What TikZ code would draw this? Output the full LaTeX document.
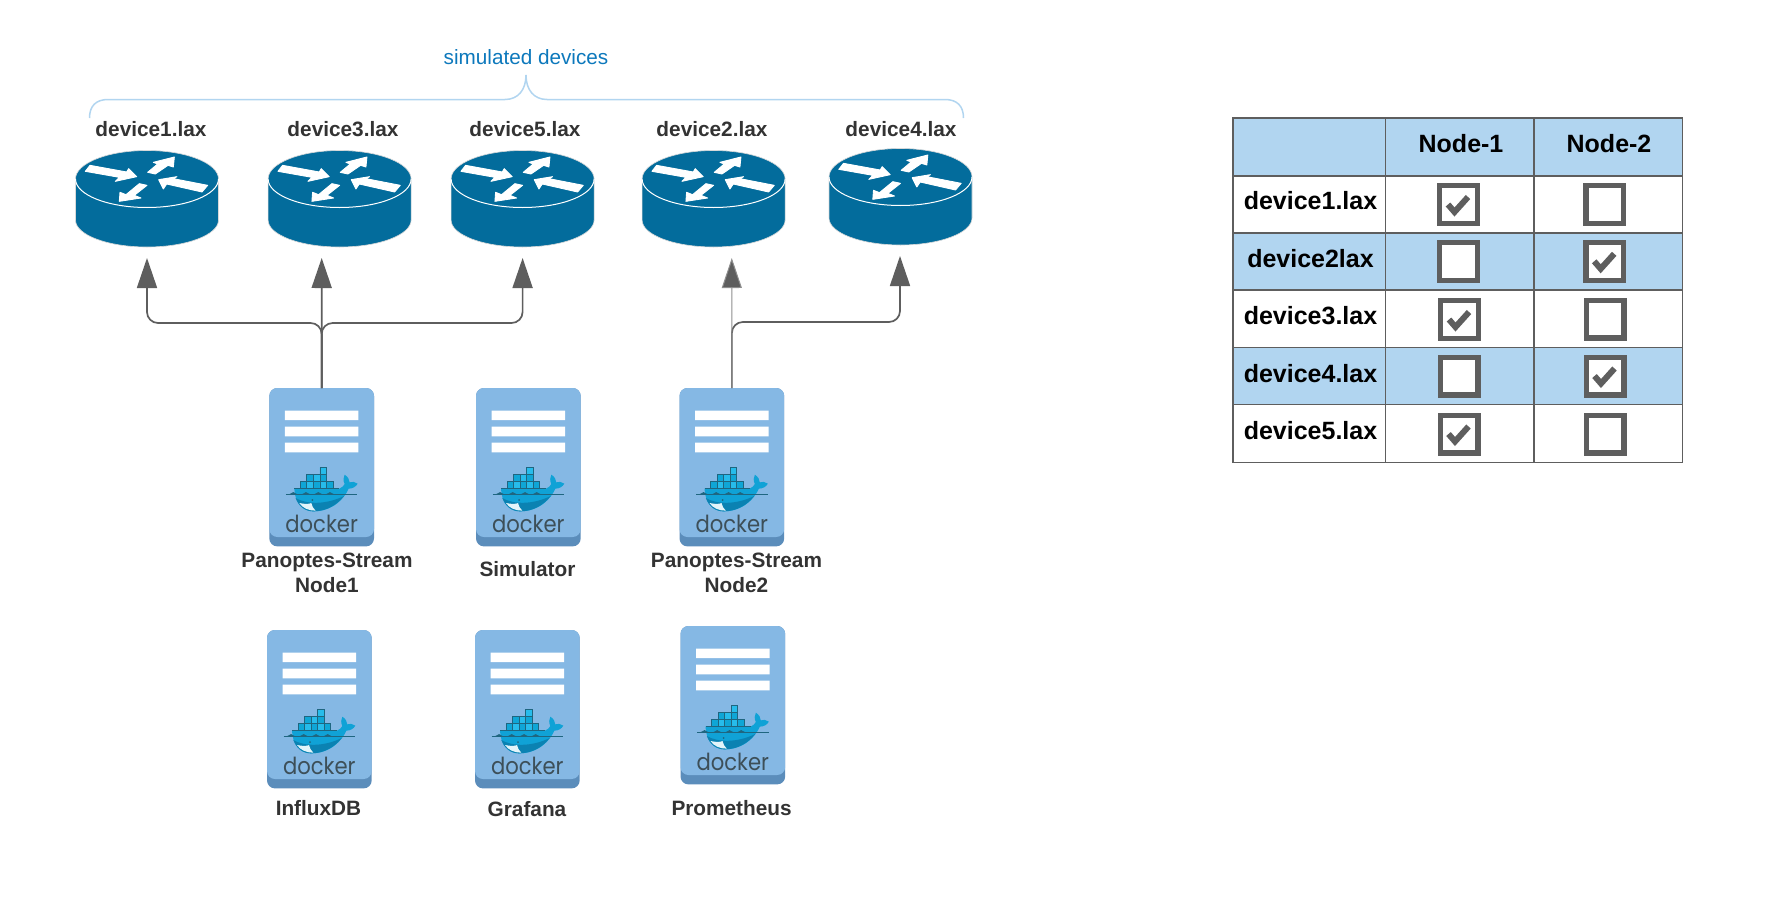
\documentclass[tikz,border=0pt]{standalone}
\usepackage{fontspec}
\setmainfont{Liberation Sans}
\newfontfamily\dockerfont{Poppins}
\usetikzlibrary{arrows.meta}
\definecolor{routerblue}{HTML}{036C9C}
\definecolor{simblue}{HTML}{0C78BC}
\definecolor{srvlight}{HTML}{85B8E4}
\definecolor{srvdark}{HTML}{5B8DBB}
\definecolor{cellblue}{HTML}{B1D5F0}
\definecolor{linegrey}{HTML}{5E5E5E}
\definecolor{labeltext}{HTML}{333333}
\definecolor{dkline}{HTML}{1F6680}
\definecolor{dkA}{HTML}{0FA6D6}
\definecolor{dkB}{HTML}{27BCEB}
\definecolor{dkwhale}{HTML}{10A2D6}
\definecolor{dkdeep}{HTML}{0B82B2}
\definecolor{dktext}{HTML}{3D4F58}
\tikzset{
  lbl/.style={font=\fontsize{20.8}{25}\selectfont\bfseries,text=labeltext,align=center,inner sep=0pt},
  cell/.style={font=\fontsize{25}{29}\selectfont\bfseries,text=black,inner sep=0pt},
  link/.style={draw=linegrey,line width=1.7pt,rounded corners=11pt},
  tip/.style={-{Triangle[length=30pt,width=20pt,fill=linegrey]}},
  grid/.style={draw=linegrey,line width=1.7pt},
  chk/.style={draw=linegrey,fill=white,line width=5.3pt,minimum size=37.7pt,inner sep=0pt,outer sep=0pt},
  tick/.style={chk,path picture={\draw[linegrey,line width=6pt,miter limit=4]
     ([shift={(-10.5pt,0pt)}]path picture bounding box.center)--([shift={(-4pt,-7.5pt)}]path picture bounding box.center)--([shift={(9.5pt,7.5pt)}]path picture bounding box.center);}},
  routerdev/.pic={
    \node[minimum width=142pt,minimum height=96pt,inner sep=0pt] (-body) at (0,20) {};
    \fill[routerblue,draw=white!85!black,line width=.6pt] (-71.5,0) -- (-71.5,41) arc[x radius=71.5pt,y radius=27pt,start angle=180,end angle=360] -- (71.5,0) arc[x radius=71.5pt,y radius=28.5pt,start angle=0,end angle=180] -- cycle;
    \draw[white,line width=1pt] (-71.5,0) arc[x radius=71.5pt,y radius=28.5pt,start angle=180,end angle=360];
    \begin{scope}[xshift=-87pt,yshift=149pt,x=.33333pt,y=-.33333pt]
      \filldraw[white,line width=.9pt,line join=round] (76,424)--(90,406)--(200,426)--(206,416)--(230,440)--(166,454)--(178,442)--cycle;
      \filldraw[white,line width=.9pt,line join=round] (263,427)--(293,402)--(280,397)--(343,381)--(340,411)--(324,406)--(286,432)--cycle;
      \filldraw[white,line width=.9pt,line join=round] (443,466)--(340,446)--(351,440)--(296,449)--(310,477)--(320,462)--(426,486)--cycle;
      \filldraw[white,line width=.9pt,line join=round] (238,461)--(198,494)--(180,487)--(178,514)--(243,504)--(223,496)--(261,466)--cycle;
    \end{scope}
  },
  dockerserver/.pic={
    \node[anchor=north west,minimum width=104.7pt,minimum height=158.4pt,inner sep=0pt,outer sep=0pt,fill=srvdark,rounded corners=8pt] (-box) at (0,0) {};
    \fill[srvlight,rounded corners=8pt] (0,0) rectangle (104.7,149);
    \begin{scope}[xshift=-19.33pt,yshift=7.33pt,x=.33333pt,y=-.33333pt]
      \fill[white] (105,90) rectangle (325,118) (105,138) rectangle (325,167) (105,186) rectangle (325,215);
      % whale
      \fill[dkwhale] (133,324) -- (268,324) .. controls (276,320) and (282,316) .. (284,310) .. controls (279,300) and (280,290) .. (284,282) .. controls (293,288) and (299,296) .. (299,305) .. controls (306,302) and (315,303) .. (323,309) .. controls (318,318) and (308,324) .. (296,324) .. controls (284,352) and (250,392) .. (190,392) .. controls (155,392) and (135,365) .. (133,324) -- cycle;
      \fill[dkdeep] (137,352) .. controls (170,372) and (230,372) .. (282,346) .. controls (262,372) and (230,392) .. (190,392) .. controls (165,392) and (145,375) .. (137,352) -- cycle;
      \fill[white!88!dkwhale] (148,367) .. controls (165,371) and (180,370) .. (184,367) .. controls (186,376) and (190,384) .. (197,390) .. controls (175,390) and (158,382) .. (148,367) -- cycle;
      \fill[dkline] (187,358) circle[radius=1pt];
      \draw[dkline,line width=.7pt] (108,340) -- (322,340);
      \foreach \wx in {130,168,205,240} \fill[dkline] (\wx-11,340) .. controls (\wx-4,339) and (\wx-3,334) .. (\wx,334) .. controls (\wx+3,334) and (\wx+4,339) .. (\wx+11,340) -- cycle;
      \draw[dkline,line width=.8pt,fill=dkA] (151,303) rectangle +(19.6,20) (190.2,303) rectangle +(19.6,20) (229.4,303) rectangle +(19.6,20) (170.5,282) rectangle +(19.6,21) (210,282) rectangle +(19.6,21);
      \draw[dkline,line width=.8pt,fill=dkB] (170.6,303) rectangle +(19.6,20) (209.8,303) rectangle +(19.6,20) (190.2,282) rectangle +(19.6,21) (210,260) rectangle +(20,22);
      \draw[dkline,line width=.6pt] (133,324) -- (268,324);
      \node[anchor=base,inner sep=0pt,text=dktext,xscale=.9,font=\dockerfont\fontsize{23.5}{23}\selectfont] at (215,455) {docker};
    \end{scope}
  }
}
\begin{document}
\begin{tikzpicture}[x=1pt,y=-1pt]
\useasboundingbox (0,0) rectangle (1781,902);
\fill[white] (0,0) rectangle (1781,902);

% brace and its label
\node[font=\fontsize{20.7}{25}\selectfont,text=simblue,inner sep=0pt] (simlabel) at (526,57) {simulated devices};
\draw[cellblue,line width=1.5pt] (89.5,118) .. controls (89.5,106) and (96,99.5) .. (108,99.5) -- (505,99.5) .. controls (518,99.5) and (526,90) .. (526,75) .. controls (526,90) and (534,99.5) .. (547,99.5) -- (945,99.5) .. controls (957,99.5) and (963.5,106) .. (963.5,118);

% routers
\pic (r1) at (147,179) {routerdev};
\pic (r3) at (339.6,179) {routerdev};
\pic (r5) at (522.6,179) {routerdev};
\pic (r2) at (713.6,179) {routerdev};
\pic (r4) at (900.5,177) {routerdev};
\node[lbl] (l1) at (151,129) {device1.lax};
\node[lbl] (l3) at (343,129) {device3.lax};
\node[lbl] (l5) at (525,129) {device5.lax};
\node[lbl] (l2) at (712,129) {device2.lax};
\node[lbl] (l4) at (901,129) {device4.lax};

% servers
\pic (s1) at (269.3,388) {dockerserver};
\pic (s2) at (476,388) {dockerserver};
\pic (s3) at (679.5,388) {dockerserver};
\pic (s4) at (267,630) {dockerserver};
\pic (s5) at (475,630) {dockerserver};
\pic (s6) at (680.5,626) {dockerserver};
\node[lbl] (n1) at (327,572.5) {Panoptes-Stream\\Node1};
\node[lbl] (n2) at (527.5,569) {Simulator};
\node[lbl] (n3) at (736.5,572.5) {Panoptes-Stream\\Node2};
\node[lbl] (n4) at (318.5,808) {InfluxDB};
\node[lbl] (n5) at (527,809) {Grafana};
\node[lbl] (n6) at (731.6,808) {Prometheus};

% connectors
\coordinate (t1) at (147,258);
\coordinate (t3) at (321.7,258);
\coordinate (t5) at (522.6,258);
\coordinate (t2) at (731.8,258);
\coordinate (t4) at (900,256);
\coordinate (hA) at (0,323);
\coordinate (hB) at (0,322);
\draw[link,tip] (s1-box.north) -- (s1-box.north |- hA) -- (t1 |- hA) -- (t1);
\draw[link,tip] (s1-box.north) -- (s1-box.north |- hA) -- (t5 |- hA) -- (t5);
\draw[link,tip] (s1-box.north) -- (t3);
\draw[link,tip] (s3-box.north) -- (s3-box.north |- hB) -- (t4 |- hB) -- (t4);
\draw[draw=linegrey!70,line width=1pt,tip] (s3-box.north) -- (t2);

% table
\fill[cellblue] (1233,118) rectangle (1682.5,176) (1233,233) rectangle (1682.5,290) (1233,347.5) rectangle (1682.5,404.5);
\draw[grid] (1233,118) rectangle (1682.5,462.5);
\draw[grid] (1233,176) -- (1682.5,176) (1233,233) -- (1682.5,233) (1233,290) -- (1682.5,290) (1233,347.5) -- (1682.5,347.5) (1233,404.5) -- (1682.5,404.5);
\draw[grid,line width=1pt] (1385.5,118) -- (1385.5,462.5);
\draw[grid,line width=1.7pt] (1534,118) -- (1534,462.5);
\node[cell] (h1) at (1461,144) {Node-1};
\node[cell] (h2) at (1609,144) {Node-2};
\node[cell] (d1) at (1310.5,201) {device1.lax};
\node[cell] (d2) at (1310.5,259) {device2lax};
\node[cell] (d3) at (1310.5,316) {device3.lax};
\node[cell] (d4) at (1310.5,374) {device4.lax};
\node[cell] (d5) at (1310.5,431) {device5.lax};
\node[tick] (c11) at (1458.5,204.5) {};
\node[chk]  (c12) at (1604.7,204.5) {};
\node[chk]  (c21) at (1458.5,261.5) {};
\node[tick] (c22) at (1604.7,261.3) {};
\node[tick] (c31) at (1459.5,319.5) {};
\node[chk]  (c32) at (1605,319) {};
\node[chk]  (c41) at (1459,376) {};
\node[tick] (c42) at (1605,376) {};
\node[tick] (c51) at (1459,434) {};
\node[chk]  (c52) at (1605,434) {};
\end{tikzpicture}
\end{document}
